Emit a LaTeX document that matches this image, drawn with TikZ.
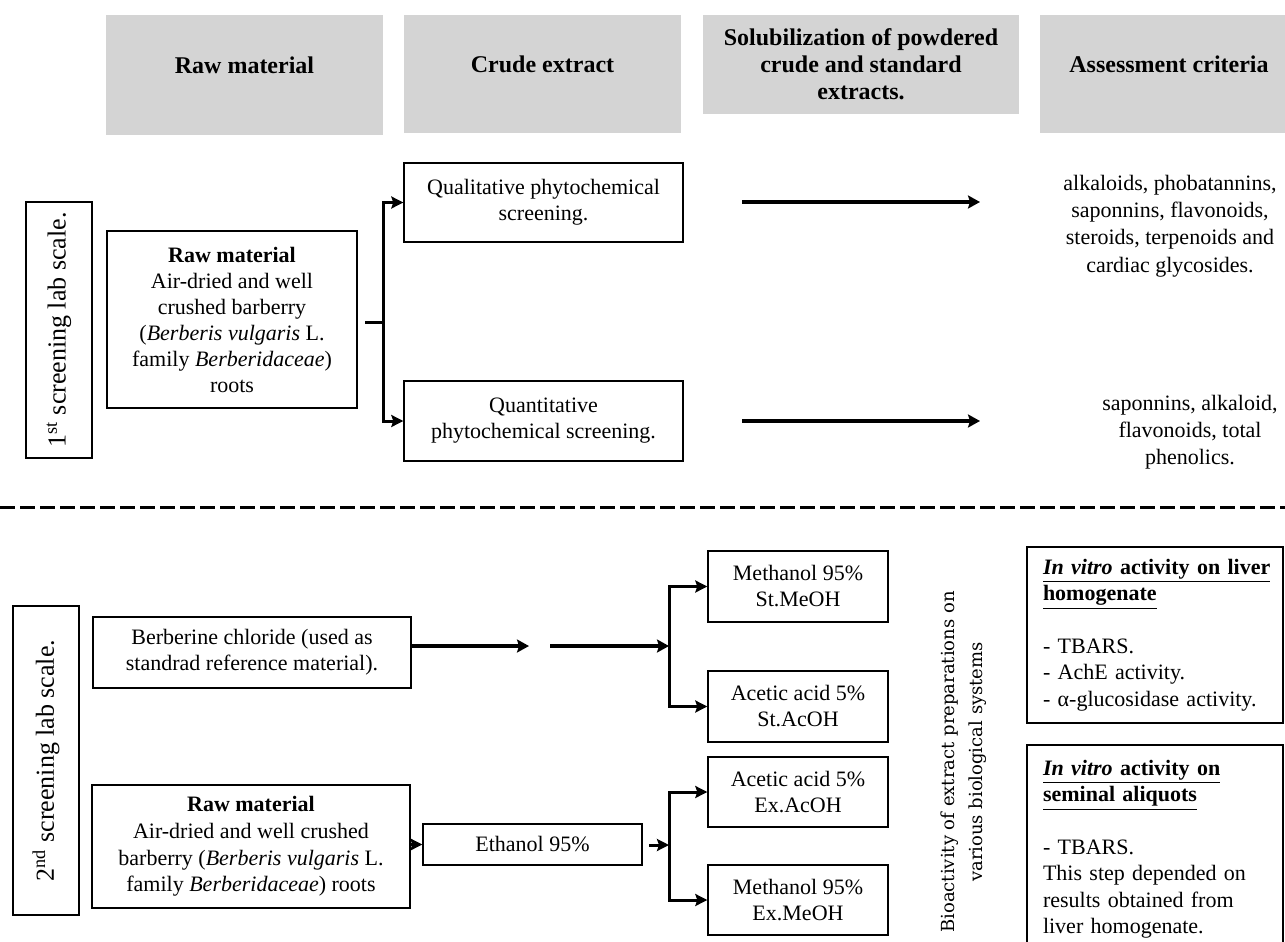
\documentclass[tikz,border=0pt]{standalone}
\usepackage{fontspec}
\setmainfont{Liberation Serif}
\newfontfamily\biofont{DejaVu Serif}
\usepackage{xcolor}
\usepackage{tikz}
\usetikzlibrary{arrows.meta}

\definecolor{headgray}{RGB}{212,212,212}

\tikzset{
  hdbox/.style = {fill = headgray, inner sep = 0pt, align = center, font = \fontsize{12}{13.5}\selectfont\bfseries},
  stbox/.style = {draw, line width = 0.7pt, inner sep = 0pt, align = center, font = \fontsize{11}{13}\selectfont},
  sidebox/.style = {draw, line width = 0.7pt, inner sep = 0pt, rotate = 90, font = \fontsize{13}{15}\selectfont},
  restext/.style = {align = center, inner sep = 0pt, font = \fontsize{11}{13.6}\selectfont},
  testbox/.style = {draw, line width = 0.7pt, inner sep = 0pt, align = left, text width = 112pt, font = \fontsize{11}{13.25}\selectfont},
  bigarr/.style = {line width = 2pt, -{Stealth[length = 6pt, width = 6.5pt, inset = 1pt]}},
  brkline/.style = {line width = 1.5pt},
  brkarr/.style = {-{Stealth[length = 6pt, width = 6pt, inset = 1pt]}},
  brkboth/.style = {{Stealth[length = 6pt, width = 6pt, inset = 1pt]}-{Stealth[length = 6pt, width = 6pt, inset = 1pt]}},
  dashline/.style = {line width = 1.5pt, dash pattern = on 7.5pt off 2.5pt}
}

\begin{document}
\begin{tikzpicture}[x = 0.5pt, y = -0.5pt]
    \path [use as bounding box, clip] (0, 0) rectangle (1285, 942);

    % column heads
    \node (hRaw) at (244.5, 75) [hdbox, minimum width = 138.5pt, minimum height = 60pt, text depth = 9.5pt] {Raw material};
    \node (hCrude) at (542.5, 74) [hdbox, minimum width = 138.5pt, minimum height = 59pt, text depth = 9.5pt] {Crude extract};
    \node (hSolu) at (861, 64.5) [hdbox, minimum width = 158pt, minimum height = 49.5pt] {Solubilization of powdered\\crude and standard\\extracts.};
    \node (hAssess) at (1169, 74) [hdbox, minimum width = 129pt, minimum height = 59pt, text depth = 9.5pt] {Assessment criteria};

    % first screening
    \node (lab1) at (59, 330) [sidebox, minimum width = 128pt, minimum height = 33pt] {1\textsuperscript{st} screening lab scale.};
    \node (raw1) at (232, 319.5) [stbox, minimum width = 125pt, minimum height = 88.5pt] {\textbf{Raw material}\\Air-dried and well\\crushed barberry\\(\textit{Berberis vulgaris} L.\\family \textit{Berberidaceae})\\roots};
    \node (qual) at (543.5, 202.5) [stbox, minimum width = 139.5pt, minimum height = 39.5pt] {Qualitative phytochemical\\screening.};
    \node (quant) at (543.5, 421) [stbox, minimum width = 139.5pt, minimum height = 40pt] {Quantitative\\phytochemical screening.};
    \node (res1) at (1170, 226) [restext] {alkaloids, phobatannins,\\saponnins, flavonoids,\\steroids, terpenoids and\\cardiac glycosides.};
    \node (res2) at (1190, 432) [restext] {saponnins, alkaloid,\\flavonoids, total\\phenolics.};

    \coordinate (j0) at (365, 322);
    \coordinate (j1) at (383, 322);
    \coordinate (qa1) at (742, 202);
    \coordinate (qa2) at (980, 202);
    \coordinate (pa1) at (742, 421);
    \coordinate (pa2) at (980, 421);

    \draw [brkline] (j0) -- (j1);
    \draw [brkline, brkboth] (qual.west) -| (j1) |- (quant.west);
    \draw [bigarr] (qa1) -- (qa2);
    \draw [bigarr] (pa1) -- (pa2);

    \draw [dashline] (0, 507) -- (1285, 507);

    % second screening
    \node (lab2) at (46, 760.5) [sidebox, minimum width = 154.5pt, minimum height = 33pt] {2\textsuperscript{nd} screening lab scale.};
    \node (berb) at (252, 652.5) [stbox, minimum width = 159pt, minimum height = 35.5pt] {Berberine chloride (used as\\standrad reference material).};
    \node (raw2) at (251, 846.5) [stbox, minimum width = 159pt, minimum height = 61.5pt, font = \fontsize{11}{13.3}\selectfont] {\textbf{Raw material}\\Air-dried and well crushed\\barberry (\textit{Berberis vulgaris} L.\\family \textit{Berberidaceae}) roots};
    \node (eth) at (532.5, 844.5) [stbox, minimum width = 109.5pt, minimum height = 20.5pt] {Ethanol 95\%};
    \node (stMe) at (798, 586.5) [stbox, minimum width = 90pt, minimum height = 35.5pt] {Methanol 95\%\\St.MeOH};
    \node (stAc) at (798, 706.5) [stbox, minimum width = 90pt, minimum height = 35.5pt] {Acetic acid 5\%\\St.AcOH};
    \node (exAc) at (798, 792) [stbox, minimum width = 90pt, minimum height = 35pt] {Acetic acid 5\%\\Ex.AcOH};
    \node (exMe) at (798, 900) [stbox, minimum width = 90pt, minimum height = 35pt] {Methanol 95\%\\Ex.MeOH};

    \coordinate (b1) at (529, 646);
    \coordinate (b2) at (550, 646);
    \coordinate (bT) at (669, 646);
    \coordinate (e0) at (649, 845);
    \coordinate (eJ) at (669, 845);

    \draw [bigarr] (berb.east |- b1) -- (b1);
    \draw [bigarr] (b2) -- (bT);
    \draw [brkline, brkboth] (stMe.west) -| (bT) |- (stAc.west);
    \draw [brkline, brkarr] (raw2.east |- eth.west) -- (eth.west);
    \draw [brkline, brkarr] (e0) -- (eJ);
    \draw [brkline, brkboth] (exAc.west) -| (eJ) |- (exMe.west);

    % biological systems
    \node (bio) at (964, 762) [rotate = 90, align = center, inner sep = 0pt, font = \biofont\fontsize{9}{14}\selectfont] {Bioactivity of extract preparations on\\various biological systems};
    \node (liver) at (1155, 635) [testbox, minimum width = 128pt, minimum height = 88pt] {\underline{\textbf{\textit{In vitro} activity on liver}}\\\underline{\textbf{homogenate}}\\[13pt]- TBARS.\\- AchE activity.\\- α-glucosidase activity.};
    \node (semen) at (1155, 849) [testbox, minimum width = 128pt, minimum height = 104pt] {\underline{\textbf{\textit{In vitro} activity on}}\\\underline{\textbf{seminal aliquots}}\\[13pt]- TBARS.\\This step depended on\\results obtained from\\liver homogenate.};
\end{tikzpicture}
\end{document}
